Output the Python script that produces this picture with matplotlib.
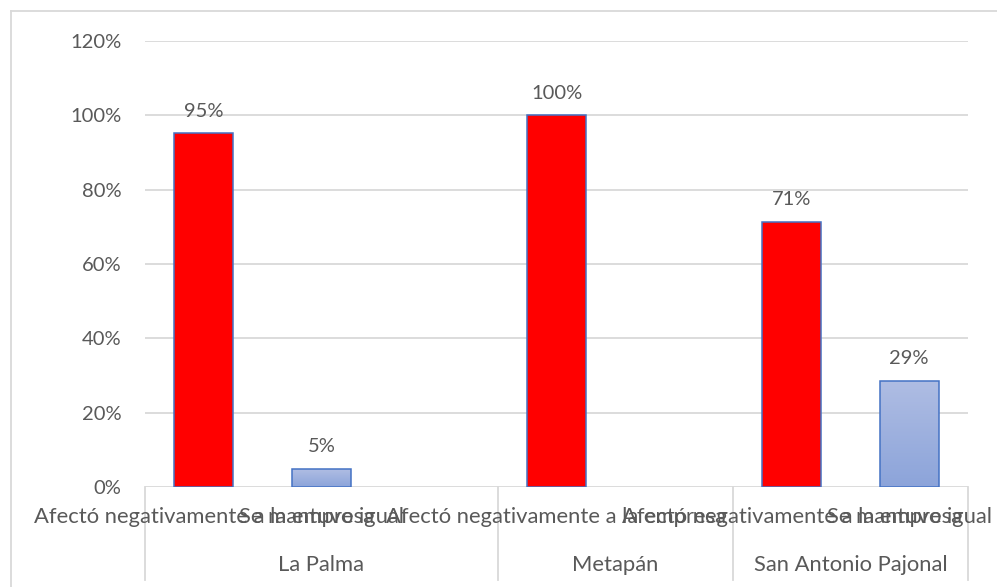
import numpy as np
import matplotlib
matplotlib.use("Agg")
import matplotlib.pyplot as plt
from matplotlib.lines import Line2D
from matplotlib.patches import Rectangle
from matplotlib.ticker import FuncFormatter

plt.rcParams['font.family'] = ['Lato', 'DejaVu Sans']

# ---- data ----
group_labels = ["La Palma", "Metapán", "San Antonio Pajonal"]
group_sizes = [3, 2, 2]
categories = ["Afectó negativamente a la empresa", "Se mantuvo igual", "",
              "Afectó negativamente a la empresa", "",
              "Afectó negativamente a la empresa", "Se mantuvo igual"]
values = [0.952, 0.048, None, 1.00, None, 0.714, 0.286]
y_ticks = [0, 0.2, 0.4, 0.6, 0.8, 1.0, 1.2]

W, H = 997, 587
fig = plt.figure(figsize=(W / 100, H / 100), dpi=100)
fig.patch.set_facecolor('white')

x0, x1 = 145, 968
y0, y1 = 487, 41
ax = fig.add_axes([x0 / W, (H - y0) / H, (x1 - x0) / W, (y0 - y1) / H])

grid_c = '#D9D9D9'
text_c = '#595959'
fs = 14.5
fs_cat = 15.8

n = len(categories)
ax.set_xlim(-0.5, n - 0.5)
ax.set_ylim(0, 1.2)
ax.set_yticks(y_ticks)
ax.yaxis.set_major_formatter(FuncFormatter(lambda v, p: f"{v*100:.0f}%"))
ax.tick_params(axis='y', length=0, pad=17, labelsize=fs, labelcolor=text_c)
ax.set_xticks([])
for s in ax.spines.values():
    s.set_visible(False)
ax.grid(axis='y', color=grid_c, lw=1.3)
ax.set_axisbelow(True)

bw = 0.5
for i, (cat, v) in enumerate(zip(categories, values)):
    if v is None:
        continue
    if cat.startswith("Afect"):
        ax.bar(i, v, width=bw, color='#FF0000', edgecolor='#4472C4', lw=1.1, zorder=3)
    else:
        rect = Rectangle((i - bw / 2, 0), bw, v, facecolor='none',
                         edgecolor='#4472C4', lw=1.1, zorder=4)
        ax.add_patch(rect)
        grad = np.linspace(0, 1, 256).reshape(-1, 1)
        top = np.array([0xAF, 0xBD, 0xE3]) / 255
        bot = np.array([0x8C, 0xA4, 0xDA]) / 255
        img = top[None, None, :] * (1 - grad[:, :, None]) + bot[None, None, :] * grad[:, :, None]
        im = ax.imshow(img, extent=(i - bw / 2, i + bw / 2, 0, v), origin='upper',
                       aspect='auto', zorder=3, interpolation='bilinear')
        clip = Rectangle((i - bw / 2, 0), bw, v, transform=ax.transData)
        im.set_clip_path(clip)
    ax.annotate(f"{v*100:.0f}%", (i, v), xytext=(0, 12), textcoords='offset points',
                ha='center', va='baseline', fontsize=fs, color=text_c, zorder=5)
ax.set_xlim(-0.5, n - 0.5)
ax.set_ylim(0, 1.2)

# ---- multi-level category axis ----
trans = ax.get_xaxis_transform()
for i, cat in enumerate(categories):
    if cat:
        ax.text(i, -(517 - y0) / (y0 - y1), cat, transform=trans, ha='center', va='center',
                fontsize=fs_cat, color=text_c, clip_on=False)
bounds = np.concatenate([[0], np.cumsum(group_sizes)]) - 0.5
y_bottom = -(580 - y0) / (y0 - y1)
for b in bounds:
    ax.add_line(Line2D([b, b], [0, y_bottom], transform=trans, color=grid_c,
                       lw=1.3, clip_on=False))
for g, (a, b) in enumerate(zip(bounds[:-1], bounds[1:])):
    ax.text((a + b) / 2, -(565 - y0) / (y0 - y1), group_labels[g], transform=trans,
            ha='center', va='center', fontsize=fs_cat, color=text_c, clip_on=False)

# chart area border (partially clipped)
fig.add_artist(Line2D([11 / W, 11 / W], [0, (H - 11) / H], color=grid_c, lw=1.3))
fig.add_artist(Line2D([11 / W, 1], [(H - 11) / H, (H - 11) / H], color=grid_c, lw=1.3))

fig.savefig("out.png", dpi=100, facecolor='white')
